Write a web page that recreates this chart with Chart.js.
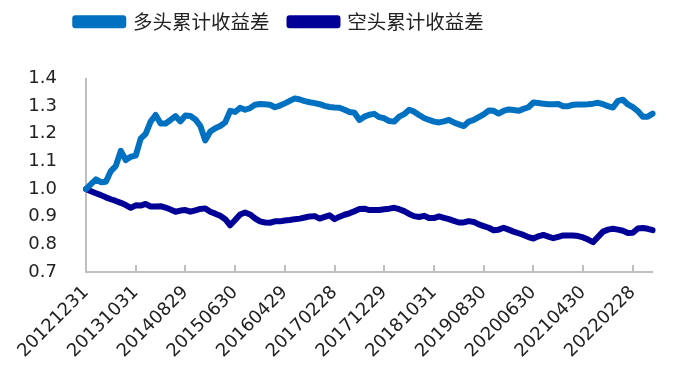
<!DOCTYPE html>
<html>
<head>
<meta charset="utf-8">
<script src="https://cdn.jsdelivr.net/npm/chart.js@4.4.0/dist/chart.umd.min.js"></script>
<style>
html,body{margin:0;padding:0;background:#fff;}
#wrap{width:678px;height:387px;position:relative;}
</style>
</head>
<body>
<div id="wrap"><canvas id="c" width="678" height="387"></canvas></div>
<script>
const seriesNames = ['多头累计收益差', '空头累计收益差'];
const tickLabels = ['20121231','20131031','20140829','20150630','20160429','20170228','20171229','20181031','20190830','20200630','20210430','20220228'];
const longSpread = [
1.000,1.018,1.035,1.025,1.026,1.065,1.084,1.138,1.105,1.117,
1.121,1.182,1.200,1.244,1.268,1.237,1.237,1.250,1.264,1.245,
1.266,1.264,1.252,1.228,1.176,1.208,1.220,1.228,1.241,1.283,
1.279,1.294,1.287,1.293,1.305,1.308,1.307,1.305,1.296,1.302,
1.310,1.319,1.328,1.324,1.318,1.314,1.311,1.307,1.301,1.297,
1.295,1.294,1.287,1.279,1.276,1.250,1.262,1.269,1.272,1.260,
1.256,1.246,1.244,1.262,1.271,1.287,1.280,1.268,1.257,1.250,
1.244,1.241,1.245,1.250,1.241,1.234,1.228,1.244,1.250,1.260,
1.270,1.284,1.283,1.273,1.283,1.288,1.286,1.283,1.290,1.296,
1.313,1.311,1.309,1.307,1.307,1.308,1.300,1.300,1.305,1.306,
1.306,1.307,1.309,1.312,1.307,1.300,1.295,1.319,1.323,1.306,
1.296,1.282,1.262,1.262,1.273
];
const shortSpread = [
1.000,0.992,0.985,0.978,0.970,0.963,0.957,0.950,0.942,0.932,
0.941,0.940,0.946,0.937,0.937,0.938,0.933,0.926,0.918,0.922,
0.924,0.918,0.923,0.928,0.930,0.918,0.911,0.903,0.891,0.869,
0.888,0.908,0.915,0.908,0.894,0.883,0.879,0.878,0.883,0.883,
0.886,0.888,0.891,0.893,0.897,0.901,0.902,0.893,0.899,0.905,
0.891,0.900,0.907,0.912,0.920,0.928,0.929,0.924,0.924,0.924,
0.927,0.929,0.932,0.927,0.920,0.910,0.902,0.899,0.903,0.895,
0.895,0.901,0.896,0.891,0.885,0.879,0.879,0.884,0.881,0.872,
0.866,0.860,0.851,0.853,0.860,0.853,0.846,0.840,0.834,0.826,
0.821,0.829,0.834,0.828,0.822,0.827,0.832,0.832,0.832,0.830,
0.825,0.817,0.808,0.827,0.846,0.853,0.856,0.853,0.849,0.841,
0.842,0.857,0.859,0.856,0.851
];
const labelEvery = 10;
const categories = longSpread.map((_, i) => (i % labelEvery === 0 && tickLabels[i / labelEvery]) ? tickLabels[i / labelEvery] : '');

const colors = ['#0070C0', '#000096'];
const axisColor = '#BFBFBF';

const innerTicks = {
  id: 'innerTicks',
  afterDatasetsDraw(chart) {
    const x = chart.scales.x, ctx = chart.ctx, bottom = chart.chartArea.bottom;
    ctx.save();
    ctx.strokeStyle = axisColor;
    ctx.lineWidth = 2;
    for (let i = labelEvery; i < categories.length; i += labelEvery) {
      const px = Math.round(x.getPixelForValue(i));
      ctx.beginPath();
      ctx.moveTo(px, bottom);
      ctx.lineTo(px, bottom - 7);
      ctx.stroke();
    }
    ctx.restore();
  }
};
const legendShift = {
  id: 'legendShift',
  afterLayout(chart) {
    const lg = chart.legend;
    if (!lg) return;
    lg.left -= 52; lg.right -= 52;
    lg.top -= 37; lg.bottom -= 37;
  }
};

new Chart(document.getElementById('c'), {
  type: 'line',
  data: {
    labels: categories,
    datasets: [
      { label: seriesNames[0], data: longSpread, borderColor: colors[0], backgroundColor: colors[0], borderWidth: 6, pointRadius: 0, tension: 0, borderJoinStyle: 'round', borderCapStyle: 'round' },
      { label: seriesNames[1], data: shortSpread, borderColor: colors[1], backgroundColor: colors[1], borderWidth: 6, pointRadius: 0, tension: 0, borderJoinStyle: 'round', borderCapStyle: 'round' }
    ]
  },
  options: {
    responsive: false,
    animation: false,
    events: [],
    layout: { padding: { left: 0, right: 15, top: 29, bottom: 15 } },
    plugins: {
      tooltip: { enabled: false },
      legend: {
        position: 'top',
        align: 'center',
        labels: {
          boxWidth: 48,
          boxHeight: 7,
          padding: 20,
          color: '#222',
          font: { family: '"Noto Sans CJK SC", sans-serif', size: 19.5 }
        }
      }
    },
    scales: {
      x: {
        type: 'category',
        offset: false,
        grid: { display: false, drawTicks: false },
        border: { display: true, color: axisColor, width: 2 },
        ticks: {
          autoSkip: false,
          minRotation: 45,
          maxRotation: 45,
          padding: 10,
          color: '#222',
          font: { family: '"DejaVu Sans", sans-serif', size: 18 }
        }
      },
      y: {
        min: 0.7,
        max: 1.4,
        grid: { display: false, drawTicks: false },
        border: { display: true, color: axisColor, width: 2 },
        afterFit(scale) { scale.width = 86; },
        ticks: {
          stepSize: 0.1,
          padding: 29,
          color: '#222',
          font: { family: '"DejaVu Sans", sans-serif', size: 18 },
          callback: v => Number(v).toFixed(1)
        }
      }
    }
  },
  plugins: [innerTicks, legendShift]
});
</script>
</body>
</html>
